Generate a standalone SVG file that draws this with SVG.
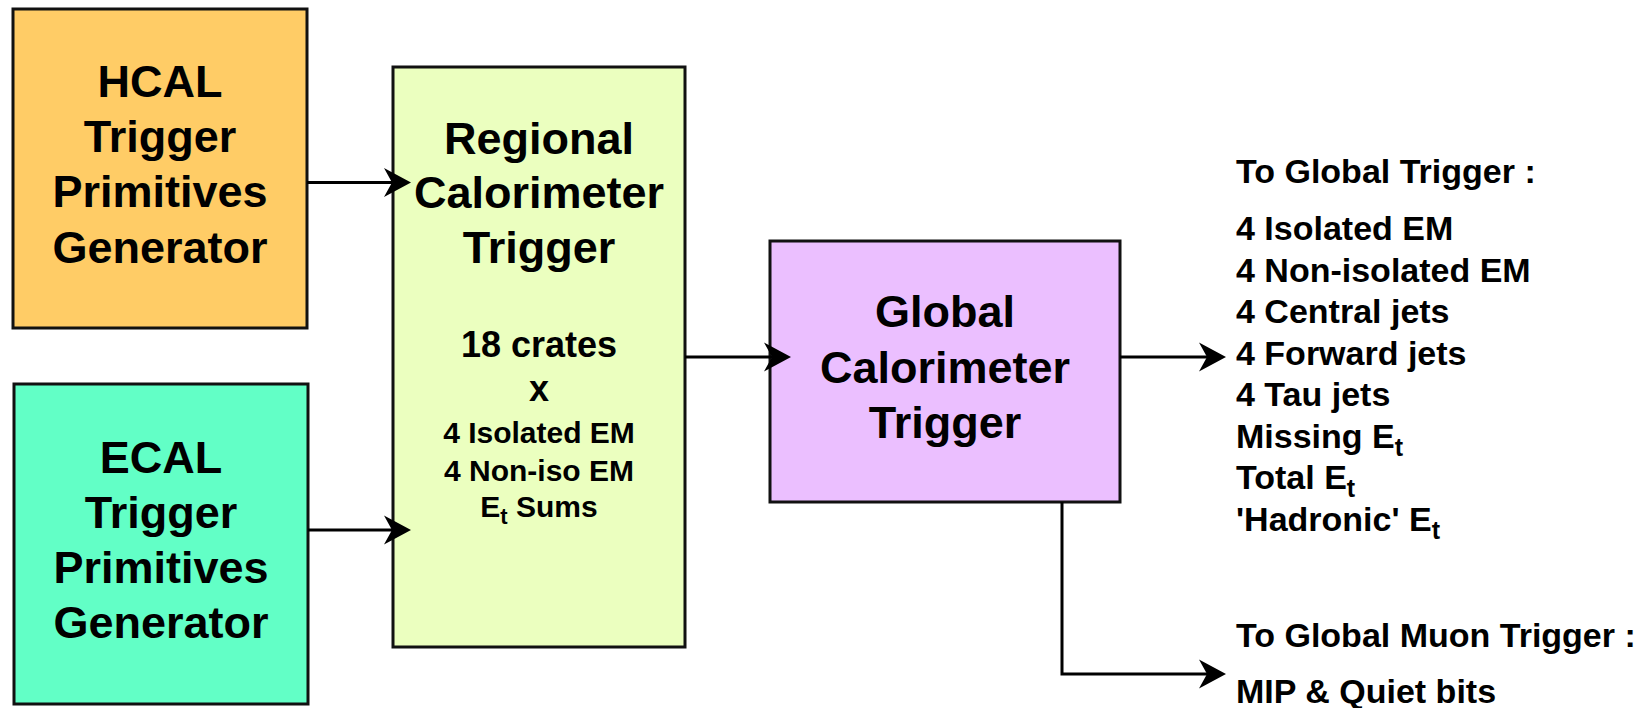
<svg xmlns="http://www.w3.org/2000/svg" width="1650" height="708" viewBox="0 0 1650 708">
<style>
  text { font-family: "Liberation Sans", Arial, sans-serif; font-weight: bold; fill: #000; }
  .big { font-size: 45px; text-anchor: middle; }
  .mid { font-size: 36px; text-anchor: middle; }
  .sm { font-size: 30px; text-anchor: middle; }
  .out { font-size: 34px; }
  .box { stroke: #111; stroke-width: 3; }
  .conn { fill: none; stroke: #000; stroke-width: 3; marker-end: url(#arr); }
  .sub { font-size: 25px; }
  .subs { font-size: 22px; }
</style>
<defs>
  <marker id="arr" markerUnits="userSpaceOnUse" markerWidth="28" markerHeight="30" viewBox="0 0 28 30" refX="17" refY="15" orient="auto">
    <path d="M27,15 L0,0.5 L8,15 L0,29.5 Z" fill="#000"/>
  </marker>
</defs>
<rect width="1650" height="708" fill="#fff"/>

<g id="hcal">
  <rect class="box" x="13" y="9" width="294" height="319" fill="#FFCC66"/>
  <text class="big" x="160" y="97">HCAL</text>
  <text class="big" x="160" y="152">Trigger</text>
  <text class="big" x="160" y="207">Primitives</text>
  <text class="big" x="160" y="263">Generator</text>
</g>

<g id="ecal">
  <rect class="box" x="14" y="384" width="294" height="320" fill="#62FFC6"/>
  <text class="big" x="161" y="473">ECAL</text>
  <text class="big" x="161" y="528">Trigger</text>
  <text class="big" x="161" y="583">Primitives</text>
  <text class="big" x="161" y="638">Generator</text>
</g>

<g id="rct">
  <rect class="box" x="393" y="67" width="292" height="580" fill="#EBFFBF"/>
  <text class="big" x="539" y="154">Regional</text>
  <text class="big" x="539" y="208">Calorimeter</text>
  <text class="big" x="539" y="263">Trigger</text>
  <text class="mid" x="539" y="357">18 crates</text>
  <text class="mid" x="539" y="401">x</text>
  <text class="sm" x="539" y="443">4 Isolated EM</text>
  <text class="sm" x="539" y="481">4 Non-iso EM</text>
  <text class="sm" x="539" y="517">E<tspan class="subs" dy="7">t</tspan><tspan dy="-7"> Sums</tspan></text>
</g>

<g id="gct">
  <rect class="box" x="770" y="241" width="350" height="261" fill="#EBBFFF"/>
  <text class="big" x="945" y="327">Global</text>
  <text class="big" x="945" y="383">Calorimeter</text>
  <text class="big" x="945" y="438">Trigger</text>
</g>

<g id="outputs">
  <text class="out" x="1236" y="183">To Global Trigger :</text>
  <text class="out" x="1236" y="240">4 Isolated EM</text>
  <text class="out" x="1236" y="281.5">4 Non-isolated EM</text>
  <text class="out" x="1236" y="323">4 Central jets</text>
  <text class="out" x="1236" y="364.5">4 Forward jets</text>
  <text class="out" x="1236" y="406">4 Tau jets</text>
  <text class="out" x="1236" y="447.5">Missing E<tspan class="sub" dy="8">t</tspan></text>
  <text class="out" x="1236" y="489">Total E<tspan class="sub" dy="8">t</tspan></text>
  <text class="out" x="1236" y="530.5">'Hadronic' E<tspan class="sub" dy="8">t</tspan></text>
</g>

<g id="muon-outputs">
  <text class="out" x="1236" y="647">To Global Muon Trigger :</text>
  <text class="out" x="1236" y="703">MIP &amp; Quiet bits</text>
</g>

<g id="connectors">
  <path class="conn" d="M307,182.5 H401"/>
  <path class="conn" d="M308,530 H401"/>
  <path class="conn" d="M685,357 H781"/>
  <path class="conn" d="M1120,357 H1216"/>
  <path class="conn" d="M1062,502 V674 H1216"/>
</g>
</svg>
